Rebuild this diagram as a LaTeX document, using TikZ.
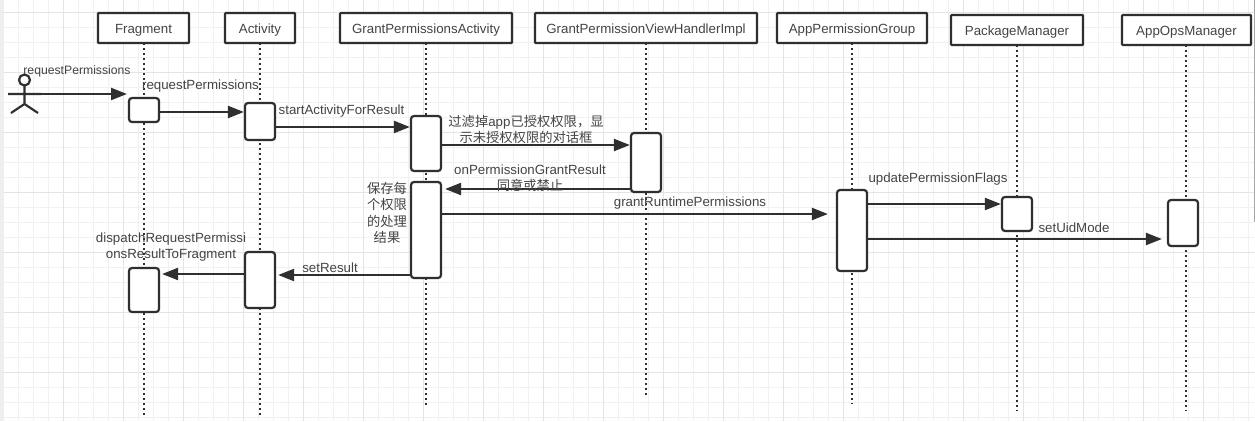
\documentclass[tikz,border=0pt]{standalone}
\usepackage{fontspec}
\usepackage{xcolor}
\setmainfont{Liberation Sans}
\newfontfamily\cjk{Noto Sans CJK SC}
\usetikzlibrary{arrows.meta}
\definecolor{inkgray}{HTML}{2F2F2F}
\definecolor{textgray}{HTML}{444444}
\definecolor{gridminor}{HTML}{F1F1F1}
\definecolor{gridmajor}{HTML}{E4E4E4}
\definecolor{edgegray}{HTML}{EEEEEE}

\begin{document}
\begin{tikzpicture}[x=1pt,y=-1pt]
\tikzset{headbox/.style={draw=inkgray,line width=2.2pt,fill=white,rounded corners=0.8pt,text=textgray,inner sep=0pt,minimum height=30pt,text height=11pt,text depth=1pt,font=\fontsize{13.3}{15}\selectfont}}
\tikzset{activbox/.style={draw=inkgray,line width=2.2pt,fill=white,rounded corners=3pt,minimum width=30pt,inner sep=0pt}}
\tikzset{msg/.style={draw=inkgray,line width=2.2pt,-{Triangle[length=16pt,width=12pt]}}}
\tikzset{lifeline/.style={draw=inkgray,line width=2pt,dash pattern=on 2pt off 3pt}}
\tikzset{lbl/.style={text=textgray,inner sep=0pt,align=center,font=\fontsize{13.3}{15.8}\selectfont}}

\useasboundingbox (0,0) rectangle (1255,421);
\fill[white] (0,0) rectangle (1255,421);

% grid
\foreach \gx in {3,18,...,1255} \draw[gridminor,line width=1pt] (\gx,0) -- (\gx,421);
\foreach \gy in {12,27,...,421} \draw[gridminor,line width=1pt] (0,\gy) -- (1255,\gy);
\foreach \gx in {3,63,...,1255} \draw[gridmajor,line width=1pt] (\gx,0) -- (\gx,421);
\foreach \gy in {12,72,...,421} \draw[gridmajor,line width=1pt] (0,\gy) -- (1255,\gy);
\fill[edgegray] (0,0) rectangle (3.5,421);
\fill[gray!70] (1254,0) rectangle (1255,222);

% heads and lifelines
\foreach \nm/\txt/\lft/\rgt/\ytop/\lx/\lbot in {
  frag/Fragment/98/189/13/143.5/415,
  activ/Activity/225/295/13/260/415,
  gpa/GrantPermissionsActivity/340/512/13/425.5/405,
  view/GrantPermissionViewHandlerImpl/535/757/13/646/395,
  apg/AppPermissionGroup/777/927/13/852/404,
  pkg/PackageManager/951/1083/15/1017/411,
  ops/AppOpsManager/1122/1251/15/1186/411}
{
  \pgfmathsetmacro{\hw}{\rgt-\lft}
  \pgfmathsetmacro{\hx}{(\rgt+\lft)/2}
  \pgfmathsetmacro{\hy}{\ytop+15}
  \coordinate (\nm end) at (\lx,\lbot);
  \draw[lifeline] (\lx,\ytop+30) -- (\nm end);
  \node[headbox,minimum width=\hw pt] (\nm) at (\hx,\hy) {\txt};
}

% actor
\coordinate (actorhand) at (41,94);
\draw[inkgray,line width=2.2pt] (24.5,86) -- (24.5,104) (8,94) -- (actorhand) (11,113) -- (24.5,104) -- (38,113);
\node[draw=inkgray,line width=2.2pt,circle,fill=white,minimum size=11pt,inner sep=0pt] (actorhead) at (24.5,80) {};

% activations
\node[activbox,minimum height=24pt] (frag1) at (144,110) {};
\node[activbox,minimum height=37pt] (activ1) at (260,121.5) {};
\node[activbox,minimum height=55pt] (gpa1) at (426,143.5) {};
\node[activbox,minimum height=96pt] (gpa2) at (426,230) {};
\node[activbox,minimum height=59pt] (view1) at (646,162.5) {};
\node[activbox,minimum height=81pt] (apg1) at (852,230.5) {};
\node[activbox,minimum height=34pt] (pkg1) at (1017,214) {};
\node[activbox,minimum height=46pt] (ops1) at (1183,223) {};
\node[activbox,minimum height=56pt] (activ2) at (260,280) {};
\node[activbox,minimum height=44pt] (frag2) at (144,290) {};

% messages
\draw[msg] (actorhand) -- (127,94);
\draw[msg] (frag1.east |- 0,112) -- (activ1.west |- 0,112);
\draw[msg] (activ1.east |- 0,127) -- (gpa1.west |- 0,127);
\draw[msg] (gpa1.east |- 0,145) -- (view1.west |- 0,145);
\draw[msg] (view1.west |- 0,189) -- ([xshift=3pt]gpa2.east |- 0,189);
\draw[msg] (gpa2.east |- 0,214) -- ([xshift=-8pt]apg1.west |- 0,214);
\draw[msg] (apg1.east |- 0,204) -- (pkg1.west |- 0,204);
\draw[msg] (apg1.east |- 0,239) -- ([xshift=-5pt]ops1.west |- 0,239);
\draw[msg] (gpa2.west |- 0,275) -- ([xshift=2pt]activ2.east |- 0,275);
\draw[msg] (activ2.west |- 0,274) -- ([xshift=2pt]frag2.east |- 0,274);

% labels
\node[lbl,font=\fontsize{12.2}{14}\selectfont] (reqlbl) at (77,71) {requestPermissions};
\node[lbl] (reqlbl2) at (200.5,86) {requestPermissions};
\node[lbl] (startlbl) at (341.5,111) {startActivityForResult};
\node[lbl] (filterlbl) at (526,129.5) {{\cjk 过滤掉}app{\cjk 已授权权限^^^^ff0c显}\\{\cjk 示未授权权限的对话框}};
\node[lbl] (grantlbl) at (530,178) {onPermissionGrantResult\\{\cjk 同意或禁止}};
\node[lbl] (runtimelbl) at (690,203) {grantRuntimePermissions};
\node[lbl,font=\fontsize{13.3}{16.3}\cjk] (savelbl) at (387,213) {保存每\\个权限\\的处理\\结果};
\node[lbl] (dispatchlbl) at (171,247) {dispatchRequestPermissi\\onsResultToFragment};
\node[lbl] (setlbl) at (330,268) {setResult};
\node[lbl] (flagslbl) at (938,179) {updatePermissionFlags};
\node[lbl] (uidlbl) at (1074,228) {setUidMode};
\end{tikzpicture}
\end{document}
